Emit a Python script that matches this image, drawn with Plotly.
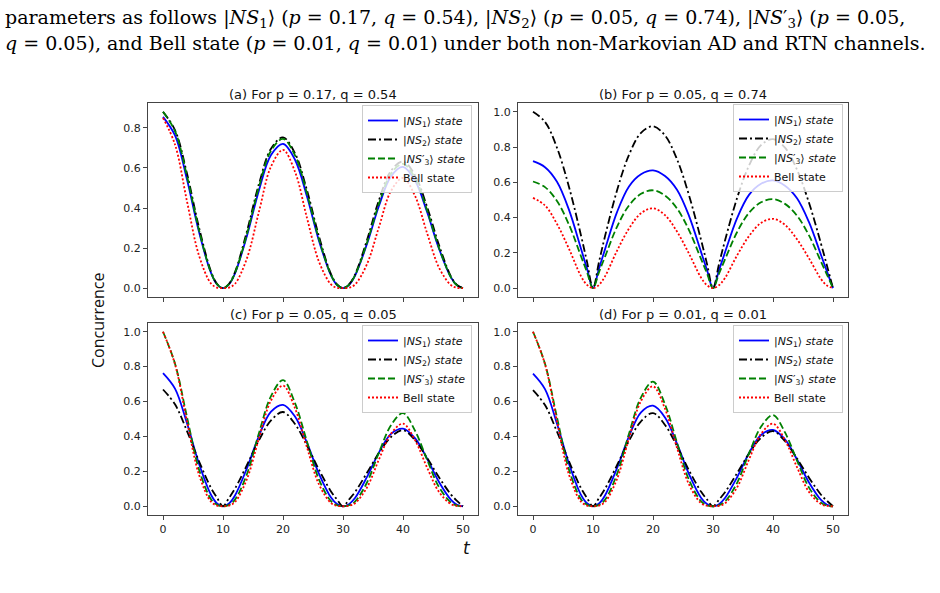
import plotly.graph_objects as go

W, H = 940, 593

# time samples (t)
T = [0, 2, 4, 6, 8, 9, 10, 11, 12, 14, 16, 18, 20, 22, 24, 26, 28, 29, 30, 31, 32, 34, 36, 38, 40, 42, 44, 46, 48, 49, 50]

# (a) p = 0.17, q = 0.54
A_NS1 = [.855, .762, .542, .281, .076, .019, 0, .019, .074, .262, .489, .664, .72, .641, .457, .236, .064, .016, 0, .016, .062, .221, .411, .558, .605, .537, .381, .197, .053, .014, 0]
A_NS2 = [.88, .789, .572, .303, .083, .022, 0, .022, .080, .285, .521, .696, .752, .673, .488, .258, .070, .019, 0, .019, .068, .240, .440, .586, .632, .564, .407, .215, .058, .016, 0]
A_NS3 = [.88, .784, .559, .290, .078, .020, 0, .020, .076, .271, .506, .686, .745, .663, .472, .244, .066, .017, 0, .017, .064, .227, .422, .572, .62, .550, .390, .201, .054, .014, 0]
A_BELL = [.85, .717, .433, .163, .023, .003, 0, .003, .022, .150, .382, .607, .69, .581, .350, .132, .019, .002, 0, .002, .018, .120, .306, .485, .55, .461, .276, .103, .015, .002, 0]

# (b) p = 0.05, q = 0.74
B_NS1 = [.72, .686, .603, .444, .224, .111, 0, .111, .220, .431, .577, .646, .668, .636, .558, .410, .206, .103, 0, .102, .203, .396, .529, .592, .611, .581, .510, .374, .188, .094, 0]
B_NS2 = [1.0, .943, .796, .574, .299, .150, 0, .149, .294, .554, .756, .881, .918, .866, .731, .527, .275, .138, 0, .137, .270, .510, .695, .811, .845, .797, .672, .484, .252, .127, 0]
B_NS3 = [.605, .573, .494, .360, .181, .091, 0, .091, .178, .348, .469, .535, .555, .525, .452, .329, .166, .084, 0, .083, .163, .317, .427, .487, .505, .478, .411, .299, .150, .076, 0]
B_BELL = [.512, .469, .364, .223, .068, .019, 0, .019, .067, .212, .338, .425, .453, .414, .321, .196, .060, .017, 0, .017, .058, .185, .295, .370, .393, .359, .277, .169, .052, .015, 0]

# (c) p = 0.05, q = 0.05
C_NS1 = [.763, .674, .476, .244, .066, .017, 0, .016, .062, .219, .404, .542, .581, .514, .363, .186, .050, .013, 0, .012, .047, .168, .309, .415, .445, .390, .274, .139, .037, .009, 0]
C_NS2 = [.669, .584, .431, .258, .105, .049, 0, .048, .101, .237, .379, .492, .54, .471, .348, .209, .085, .039, 0, .039, .081, .192, .306, .397, .436, .379, .278, .166, .067, .031, 0]
C_NS3 = [1.0, .817, .511, .211, .040, .009, 0, .008, .038, .185, .420, .631, .723, .591, .370, .153, .029, .006, 0, .006, .027, .136, .309, .464, .534, .433, .268, .110, .021, .004, 0]
C_BELL = [1.0, .814, .488, .181, .026, .004, 0, .004, .024, .157, .391, .606, .691, .562, .337, .125, .018, .003, 0, .003, .017, .108, .269, .416, .473, .379, .223, .082, .012, .002, 0]

# (d) p = 0.01, q = 0.01
D_NS1 = [.76, .671, .473, .243, .065, .017, 0, .016, .062, .218, .401, .538, .576, .509, .359, .184, .049, .013, 0, .012, .047, .165, .304, .408, .437, .383, .268, .136, .036, .009, 0]
D_NS2 = [.665, .580, .427, .257, .104, .048, 0, .047, .100, .235, .375, .487, .534, .466, .344, .206, .084, .039, 0, .038, .080, .189, .302, .392, .43, .373, .274, .164, .066, .031, 0]
D_NS3 = [1.0, .816, .509, .210, .040, .009, 0, .008, .037, .184, .416, .624, .714, .584, .365, .151, .029, .006, 0, .006, .027, .133, .303, .455, .523, .423, .262, .107, .020, .004, 0]
D_BELL = [1.0, .814, .488, .181, .026, .004, 0, .004, .024, .156, .390, .603, .687, .559, .335, .125, .018, .003, 0, .003, .017, .107, .268, .415, .473, .379, .224, .082, .012, .002, 0]

PANEL_TITLES = ["(a) For p = 0.17, q = 0.54", "(b) For p = 0.05, q = 0.74",
                "(c) For p = 0.05, q = 0.05", "(d) For p = 0.01, q = 0.01"]
SERIES_NAMES = ["|<i>NS</i><sub>1</sub>⟩ <i>state</i>", "|<i>NS</i><sub>2</sub>⟩ <i>state</i>",
                "|<i>NS</i>′<sub>3</sub>⟩ <i>state</i>", "Bell state"]
X_TICKS = [0, 10, 20, 30, 40, 50]

PANELS = [
    [A_NS1, A_NS2, A_NS3, A_BELL],
    [B_NS1, B_NS2, B_NS3, B_BELL],
    [C_NS1, C_NS2, C_NS3, C_BELL],
    [D_NS1, D_NS2, D_NS3, D_BELL],
]

STYLES = [
    dict(color="#0000ff", width=1.8, dash="solid"),
    dict(color="#000000", width=1.8, dash="8px,3px,2px,3px"),
    dict(color="#008000", width=1.8, dash="7px,3px"),
    dict(color="#ff0000", width=1.8, dash="2px,2px"),
]

# pixel boxes of each subplot: (left, right, top, bottom)
BOXES = [(148, 478, 103, 297), (518, 848, 103, 297), (148, 478, 323, 515), (518, 848, 323, 515)]
YRANGES = [[-0.044, 0.924], [-0.05, 1.05], [-0.05, 1.05], [-0.05, 1.05]]
YTICKS = [[0, 0.2, 0.4, 0.6, 0.8], [0, 0.2, 0.4, 0.6, 0.8, 1.0], [0, 0.2, 0.4, 0.6, 0.8, 1.0], [0, 0.2, 0.4, 0.6, 0.8, 1.0]]
LEGEND_POS = [(472, 105), (843, 104), (472, 325), (843, 325)]

fig = go.Figure()
tick_font = dict(family="DejaVu Sans", size=11, color="#222222")
layout = dict(width=W, height=H, margin=dict(l=0, r=0, t=0, b=0),
              paper_bgcolor="white", plot_bgcolor="white", showlegend=True)
annotations = []

for i, series in enumerate(PANELS):
    k = "" if i == 0 else str(i + 1)
    legend_id = "legend" + k
    for j, ys in enumerate(series):
        st = STYLES[j]
        fig.add_trace(go.Scatter(
            x=T, y=ys, mode="lines", name=SERIES_NAMES[j],
            line=dict(color=st["color"], width=st["width"], dash=st["dash"], shape="spline", smoothing=1.0),
            xaxis="x" + k, yaxis="y" + k, legend=legend_id, hoverinfo="skip"))
    l, r, t, b = BOXES[i]
    layout["xaxis" + k] = dict(
        domain=[l / W, r / W], anchor="y" + k, range=[-2.5, 52.5],
        tickvals=X_TICKS, ticktext=[str(v) for v in X_TICKS], showticklabels=(i >= 2),
        ticks="outside", ticklen=4, tickcolor="#444444", tickwidth=1,
        showline=True, linecolor="#444444", linewidth=1, mirror=True,
        showgrid=False, zeroline=False, tickfont=tick_font)
    layout["yaxis" + k] = dict(
        domain=[1 - b / H, 1 - t / H], anchor="x" + k, range=YRANGES[i],
        tickvals=YTICKS[i], ticktext=["%.1f" % v for v in YTICKS[i]],
        ticks="outside", ticklen=4, tickcolor="#444444", tickwidth=1,
        showline=True, linecolor="#444444", linewidth=1, mirror=True,
        showgrid=False, zeroline=False, tickfont=tick_font)
    lx, ly = LEGEND_POS[i]
    layout[legend_id] = dict(
        x=lx / W, y=1 - ly / H, xanchor="right", yanchor="top",
        bgcolor="rgba(255,255,255,0.8)", bordercolor="#cccccc", borderwidth=1,
        font=dict(family="DejaVu Sans", size=11, color="#111111"), itemwidth=30)
    annotations.append(dict(
        text=PANEL_TITLES[i], x=(l + r) / 2 / W, y=1 - (t - 9) / H, xref="paper", yref="paper",
        xanchor="center", yanchor="middle", showarrow=False,
        font=dict(family="DejaVu Sans", size=13, color="#111111")))

# axis labels shared by the grid
annotations.append(dict(text="Concurrence", x=98 / W, y=1 - 320 / H, xref="paper", yref="paper",
                        textangle=-90, showarrow=False, xanchor="center", yanchor="middle",
                        font=dict(family="Open Sans", size=16, color="#111111")))
annotations.append(dict(text="<i>t</i>", x=467 / W, y=1 - 548 / H, xref="paper", yref="paper",
                        showarrow=False, xanchor="center", yanchor="middle",
                        font=dict(family="DejaVu Sans", size=17, color="#111111")))

# surrounding paper text
LINE1 = ("parameters as follows |<i>NS</i><sub>1</sub>⟩ (<i>p</i> = 0.17, <i>q</i> = 0.54), "
         "|<i>NS</i><sub>2</sub>⟩ (<i>p</i> = 0.05, <i>q</i> = 0.74), |<i>NS</i>′<sub>3</sub>⟩ (<i>p</i> = 0.05,")
LINE2 = ("<i>q</i> = 0.05), and Bell state (<i>p</i> = 0.01, <i>q</i> = 0.01) under both "
         "non-Markovian AD and RTN channels.")
annotations.append(dict(text=LINE1, x=3 / W, y=1 - 18 / H, xref="paper", yref="paper",
                        showarrow=False, xanchor="left", yanchor="middle",
                        font=dict(family="DejaVu Serif", size=19, color="#000000")))
annotations.append(dict(text=LINE2, x=3 / W, y=1 - 43 / H, xref="paper", yref="paper",
                        showarrow=False, xanchor="left", yanchor="middle",
                        font=dict(family="DejaVu Serif", size=19, color="#000000")))

layout["annotations"] = annotations
fig.update_layout(**layout)
fig.write_html("out.html")
